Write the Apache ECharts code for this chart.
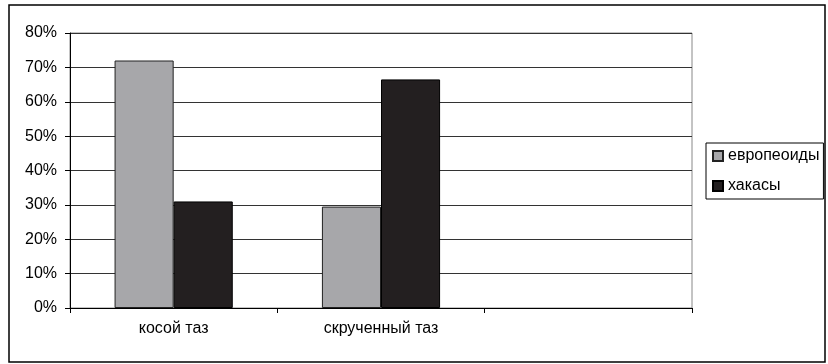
<!DOCTYPE html>
<html>
<head>
<meta charset="utf-8">
<script src="https://cdn.jsdelivr.net/npm/echarts@6/dist/echarts.min.js"></script>
<style>
  html, body { margin: 0; padding: 0; background: #fff; }
  #chart { width: 828px; height: 364px; }
</style>
</head>
<body>
<div id="chart"></div>
<script>
// категории (третья пустая, как в исходнике)
const categories = ["косой таз", "скрученный таз", ""];
const seriesNames = ["европеоиды", "хакасы"];
// значения, %
const europeoids = [72, 29.5];
const khakasy = [31, 66.5];

const chart = echarts.init(document.getElementById("chart"));

const option = {
  animation: false,
  textStyle: { fontFamily: "Liberation Sans, Arial, sans-serif" },
  graphic: [
    {
      type: "rect",
      shape: { x: 9, y: 5, width: 816, height: 357 },
      style: { fill: "none", stroke: "#000", lineWidth: 1.5 },
      silent: true,
    },
  ],
  grid: {
    left: 70,
    right: 136,
    top: 33,
    bottom: 56,
    show: true,
    borderColor: "#888",
    borderWidth: 1,
  },
  legend: {
    orient: "vertical",
    left: 706,
    top: 143,
    padding: [4, 4, 4, 6],
    itemGap: 12,
    itemWidth: 10,
    itemHeight: 10,
    icon: "rect",
    borderColor: "#000",
    borderWidth: 1,
    textStyle: { fontSize: 16, color: "#000", lineHeight: 18 },
    data: seriesNames,
  },
  xAxis: {
    type: "category",
    data: categories,
    axisLine: { lineStyle: { color: "#000", width: 1 } },
    axisTick: { show: true, length: 5, lineStyle: { color: "#000" } },
    axisLabel: { fontSize: 16, color: "#000", margin: 13 },
  },
  yAxis: {
    type: "value",
    min: 0,
    max: 80,
    interval: 10,
    axisLine: { show: true, lineStyle: { color: "#000", width: 1 } },
    axisTick: { show: true, length: 5, lineStyle: { color: "#000" } },
    axisLabel: {
      fontSize: 16,
      color: "#000",
      margin: 13,
      formatter: (v) => v + "%",
    },
    splitLine: {
      show: true,
      lineStyle: { color: "#333", width: 1 },
    },
  },
  series: [
    {
      name: seriesNames[0],
      type: "bar",
      data: europeoids,
      barGap: 0,
      barCategoryGap: "43%",
      itemStyle: { color: "#a7a7aa", borderColor: "#222", borderWidth: 1 },
    },
    {
      name: seriesNames[1],
      type: "bar",
      data: khakasy,
      barGap: 0,
      barCategoryGap: "43%",
      itemStyle: { color: "#231f20", borderColor: "#000", borderWidth: 1 },
    },
  ],
};

chart.setOption(option);
</script>
</body>
</html>
